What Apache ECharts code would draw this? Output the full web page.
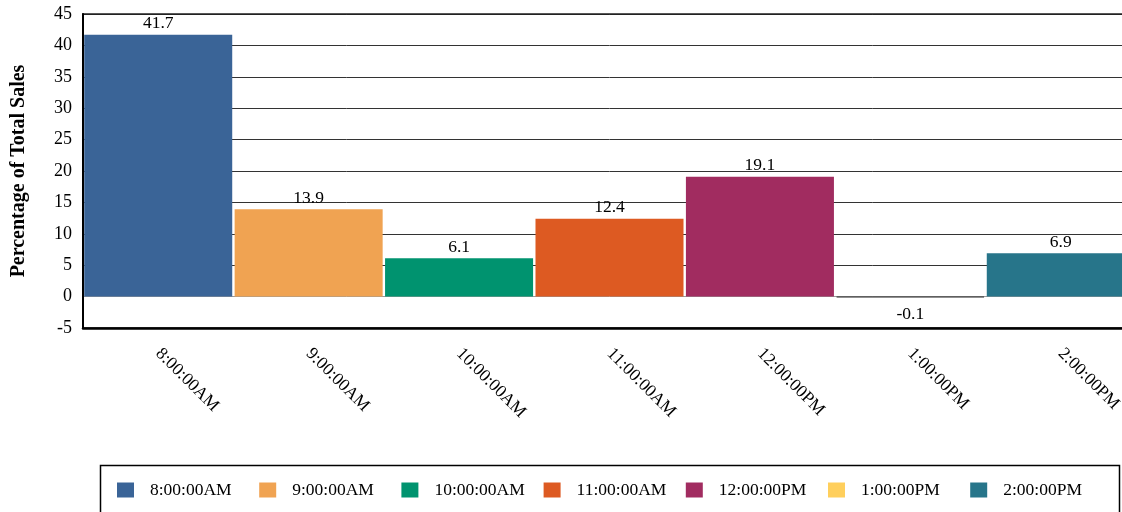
<!DOCTYPE html>
<html><head><meta charset="utf-8">
<script src="https://cdn.jsdelivr.net/npm/echarts@6/dist/echarts.min.js"></script>
<style>html,body{margin:0;padding:0;background:#fff;overflow:hidden}#c{width:1136px;height:512px}</style>
</head><body><div id="c"></div>
<script>
var categories = ['8:00:00AM','9:00:00AM','10:00:00AM','11:00:00AM','12:00:00PM','1:00:00PM','2:00:00PM'];
var values = [41.7, 13.9, 6.1, 12.4, 19.1, -0.1, 6.9];
var colors = ['#3A6497','#F0A352','#00936F','#DD5A22','#A12C60','#FFCF5C','#27758A'];
var yTicks = {min: -5, max: 45, interval: 5};
var FONT = '"Liberation Serif", "Times New Roman", serif';

var series = categories.map(function (name, i) {
  var d = categories.map(function (_, j) { return j === i ? values[i] : null; });
  return {
    name: name, type: 'bar', stack: 'all', data: d,
    barCategoryGap: '1.6%',
    itemStyle: {color: colors[i], borderColor: values[i] < 0 ? '#555' : colors[i], borderWidth: values[i] < 0 ? 1 : 0},
    label: {show: true, position: values[i] < 0 ? 'bottom' : 'top', distance: values[i] < 0 ? 8 : 2,
      color: '#000', fontFamily: FONT, fontSize: 17.5,
      formatter: function (p) { return p.value == null ? '' : p.value.toFixed(1); }}
  };
});

var legends = categories.map(function (name, i) {
  return {left: 117 + i * 142.2, top: 481, padding: 0, itemWidth: 17, itemHeight: 15,
    icon: 'rect', data: [name], itemStyle: {borderWidth: 0},
    textStyle: {fontFamily: FONT, fontSize: 17.5, color: '#000', padding: [0, 0, 0, 11]}};
});

var chart = echarts.init(document.getElementById('c'));
chart.setOption({
  animation: false,
  color: colors,
  grid: {left: 83, right: 0, top: 14, bottom: 184, show: true, borderColor: '#222', borderWidth: 1.5, containLabel: false},
  xAxis: {type: 'category', data: categories, axisTick: {show: false},
    axisLine: {onZero: false, lineStyle: {color: '#000', width: 2.5}},
    axisLabel: {interval: 0, rotate: -45, margin: 23, color: '#000', fontFamily: FONT, fontSize: 17.5}},
  yAxis: {type: 'value', min: yTicks.min, max: yTicks.max, interval: yTicks.interval,
    name: 'Percentage of Total Sales', nameLocation: 'middle', nameGap: 54,
    nameTextStyle: {fontFamily: FONT, fontSize: 20, fontWeight: 'bold', color: '#000'},
    axisLine: {show: true, lineStyle: {color: '#000', width: 2}},
    axisTick: {show: false},
    axisLabel: {color: '#000', fontFamily: FONT, fontSize: 18, margin: 11},
    splitLine: {show: true, lineStyle: {color: ['#000','#999','#333','#333','#333','#333','#333','#333','#333','#333','#222'], width: 1}}},
  legend: legends,
  graphic: [{type: 'rect', shape: {x: 100.5, y: 465.5, width: 1019, height: 60},
    style: {fill: 'none', stroke: '#000', lineWidth: 1.5}, z: -1}],
  series: series
});
</script></body></html>
